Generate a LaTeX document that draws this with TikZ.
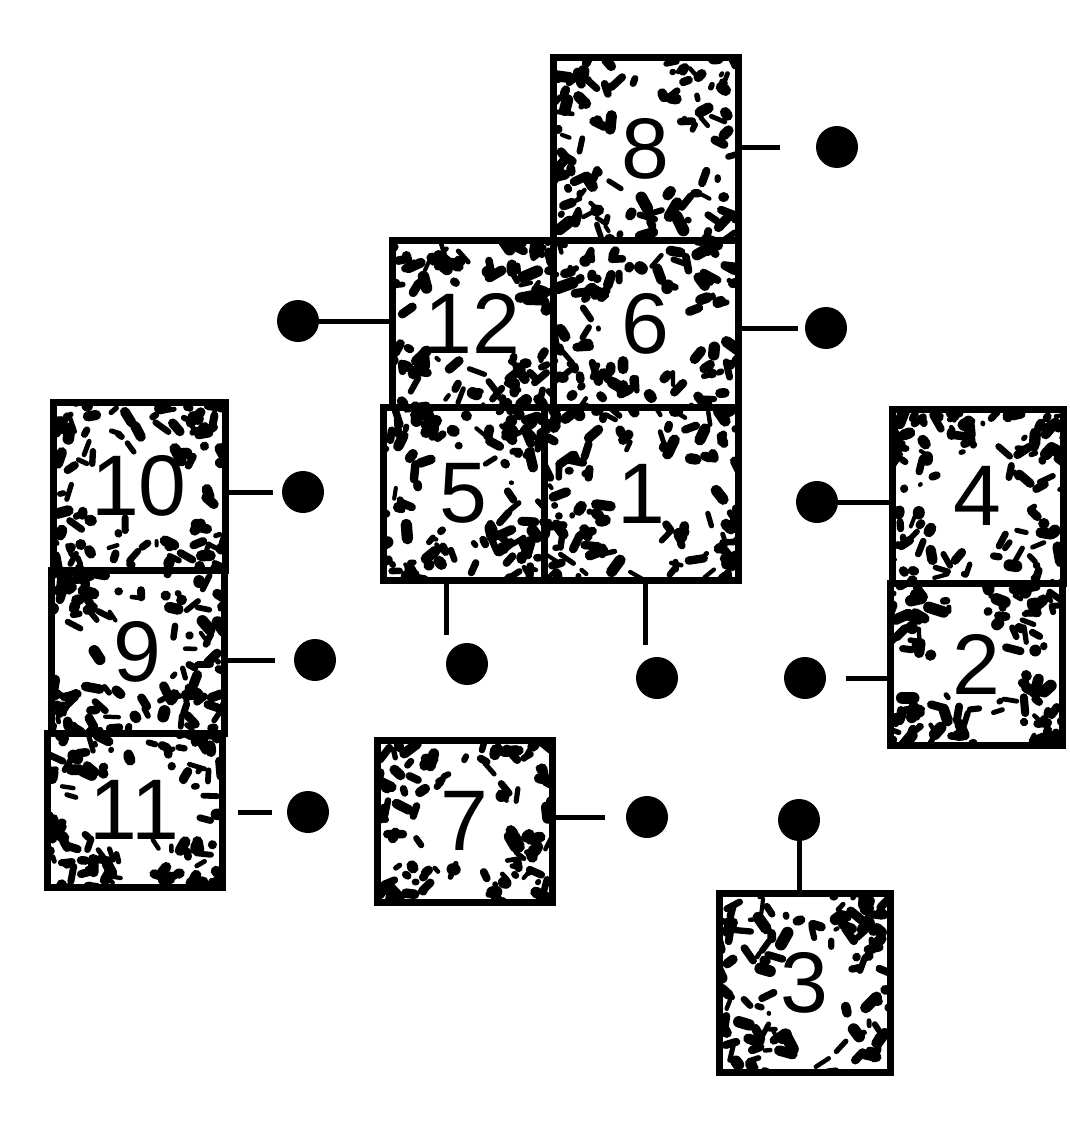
\documentclass[tikz,border=0pt]{standalone}
\usepackage{fontspec}
\setmainfont{Liberation Sans}
\usetikzlibrary{calc}
\tikzset{
  cellbox/.style={draw=black, line width=7pt, inner sep=0pt, font=\fontsize{86}{86}\selectfont},
  dotn/.style={circle, fill=black, inner sep=0pt, minimum size=42pt},
  wire/.style={line width=5pt},
  speck/.style={line cap=round, line join=round, black}
}
% #1 name, #2 cx, #3 cy, #4 w, #5 h, #6 label, #7 seed, #8 horizontal clear zone
\newcommand\cell[8]{%
  \pgfmathsetseed{#7}%
  \begin{scope}
    \clip (#2-#4/2, #3-#5/2) rectangle (#2+#4/2, #3+#5/2);
    \foreach \i in {1,...,120}{%
      \pgfmathsetmacro\u{rand}%
      \pgfmathsetmacro\v{rand}%
      \pgfmathsetmacro\u{(\u<0 ? -1 : 1)*(abs(\u)+0.001)^0.7}%
      \pgfmathsetmacro\v{(\v<0 ? -1 : 1)*(abs(\v)+0.001)^0.7}%
      \pgfmathsetmacro\q{(\u/#8)^2+(\v/0.52)^2}%
      \ifdim\q pt>1pt
        \pgfmathsetmacro\px{#2+\u*#4/2}%
        \pgfmathsetmacro\py{#3+\v*#5/2}%
        \pgfmathsetmacro\lw{4+8*rnd}%
        \pgfmathsetmacro\ln{16*rnd}%
        \pgfmathsetmacro\an{360*rnd}%
        \draw[speck, line width=\lw pt] (\px,\py) -- ++(\an:\ln);
      \fi
    }
  \end{scope}
  \node[cellbox, minimum width=#4pt, minimum height=#5pt] (#1) at (#2,#3) {#6};
}
\begin{document}
\begin{tikzpicture}[x=1pt,y=-1pt]
\useasboundingbox[fill=white] (0,0) rectangle (1070,1129);

\cell{b8}{645.5}{149}{185}{182}{8}{8}{0.5}
\cell{b12}{472.5}{323.5}{161}{167}{12}{12}{0.72}
\cell{b6}{645.5}{323.5}{185}{167}{6}{6}{0.5}
\cell{b5}{463.5}{493.5}{161}{173}{5}{5}{0.5}
\cell{b1}{641}{493.5}{194}{173}{1}{1}{0.45}
\cell{b10}{139}{486}{172}{168}{10}{10}{0.72}
\cell{b9}{137.5}{651.5}{173}{163}{9}{9}{0.5}
\cell{b11}{134.5}{810}{175}{154}{11}{11}{0.7}
\cell{b7}{464.5}{821}{175}{162}{7}{7}{0.5}
\cell{b4}{977.5}{496}{171}{174}{4}{4}{0.5}
\cell{b2}{976}{664}{172}{162}{2}{2}{0.5}
\cell{b3}{804.5}{982.5}{171}{179}{3}{3}{0.5}

\node[dotn] (d8) at (837,147) {};
\node[dotn] (d12) at (298,321) {};
\node[dotn] (d6) at (826,328) {};
\node[dotn] (d10) at (303,492) {};
\node[dotn] (d9) at (315,660) {};
\node[dotn] (d11) at (308,812) {};
\node[dotn] (d5) at (467,664) {};
\node[dotn] (d1) at (657,678) {};
\node[dotn] (d4) at (817,502) {};
\node[dotn] (d2) at (805,678) {};
\node[dotn] (d7) at (647,817) {};
\node[dotn] (d3) at (799,820) {};

\coordinate (t5) at ($(d5)+(-21,-29)$);
\coordinate (t1) at ($(d1)+(-12,-33)$);

\draw[wire, shorten >=36pt] (b8.east |- d8) -- (d8);
\draw[wire] (d12) -- (b12.west |- d12);
\draw[wire, shorten >=7pt] (b6.east |- d6) -- (d6);
\draw[wire, shorten >=9pt] (b10.east |- d10) -- (d10);
\draw[wire, shorten >=19pt] (b9.east |- d9) -- (d9);
\draw[wire, shorten <=12pt, shorten >=15pt] (b11.east |- d11) -- (d11);
\draw[wire] (t5 |- b5.south) -- (t5);
\draw[wire] (t1 |- b1.south) -- (t1);
\draw[wire] (d4) -- (b4.west |- d4);
\draw[wire, shorten <=20pt] (d2) -- (b2.west |- d2);
\draw[wire, shorten >=21pt] (b7.east |- d7) -- (d7);
\draw[wire] (d3) -- (d3 |- b3.north);
\end{tikzpicture}
\end{document}
